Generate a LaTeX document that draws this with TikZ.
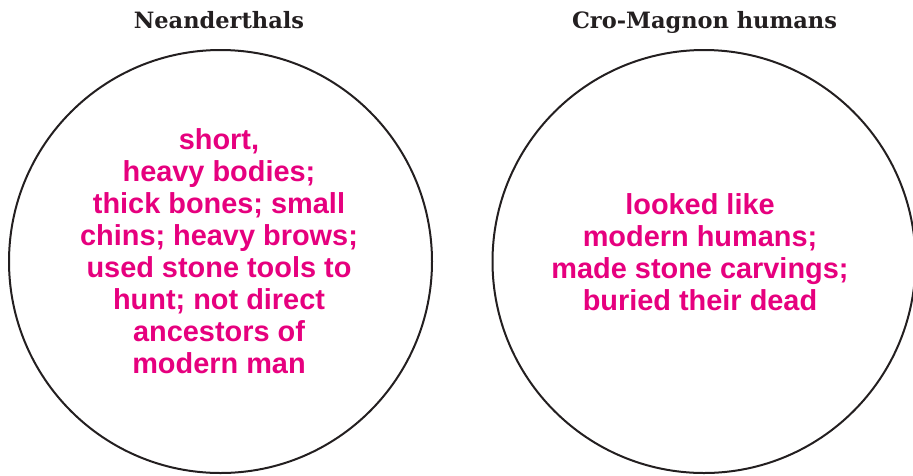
\documentclass[tikz,border=0pt]{standalone}
\usepackage{fontspec}
\setmainfont{Liberation Sans}
\newfontfamily\headfont{DejaVu Serif}
\definecolor{inkpink}{RGB}{230,0,126}
\definecolor{inkdark}{RGB}{35,31,32}
\tikzset{
  group/.style={circle,draw=inkdark,line width=2pt,minimum size=423pt,inner sep=0pt},
  heading/.style={font=\headfont\bfseries\fontsize{22.5}{25}\selectfont,text=inkdark,inner sep=0pt},
  facts/.style={align=center,font=\bfseries\fontsize{28.9}{32}\selectfont,text=inkpink,inner sep=0pt}
}
\begin{document}
\begin{tikzpicture}[x=1pt,y=-1pt]
    \useasboundingbox (0,0) rectangle (913,475);
    % circles
    \node[group] (neander) at (220.5,261.5) {};
    \node[group] (cromag) at (704,261.5) {};
    % headings
    \node[heading,anchor=base] (neanderhead) at (219,28) {Neanderthals};
    \node[heading,anchor=base] (cromaghead) at (704.5,28) {Cro-Magnon humans};
    % contents
    \node[facts] (neandertext) at (219,251) {short,\\heavy bodies;\\thick bones; small\\chins; heavy brows;\\used stone tools to\\hunt; not direct\\ancestors of\\modern man};
    \node[facts] (cromagtext) at (700,252) {looked like\\modern humans;\\made stone carvings;\\buried their dead};
\end{tikzpicture}
\end{document}
